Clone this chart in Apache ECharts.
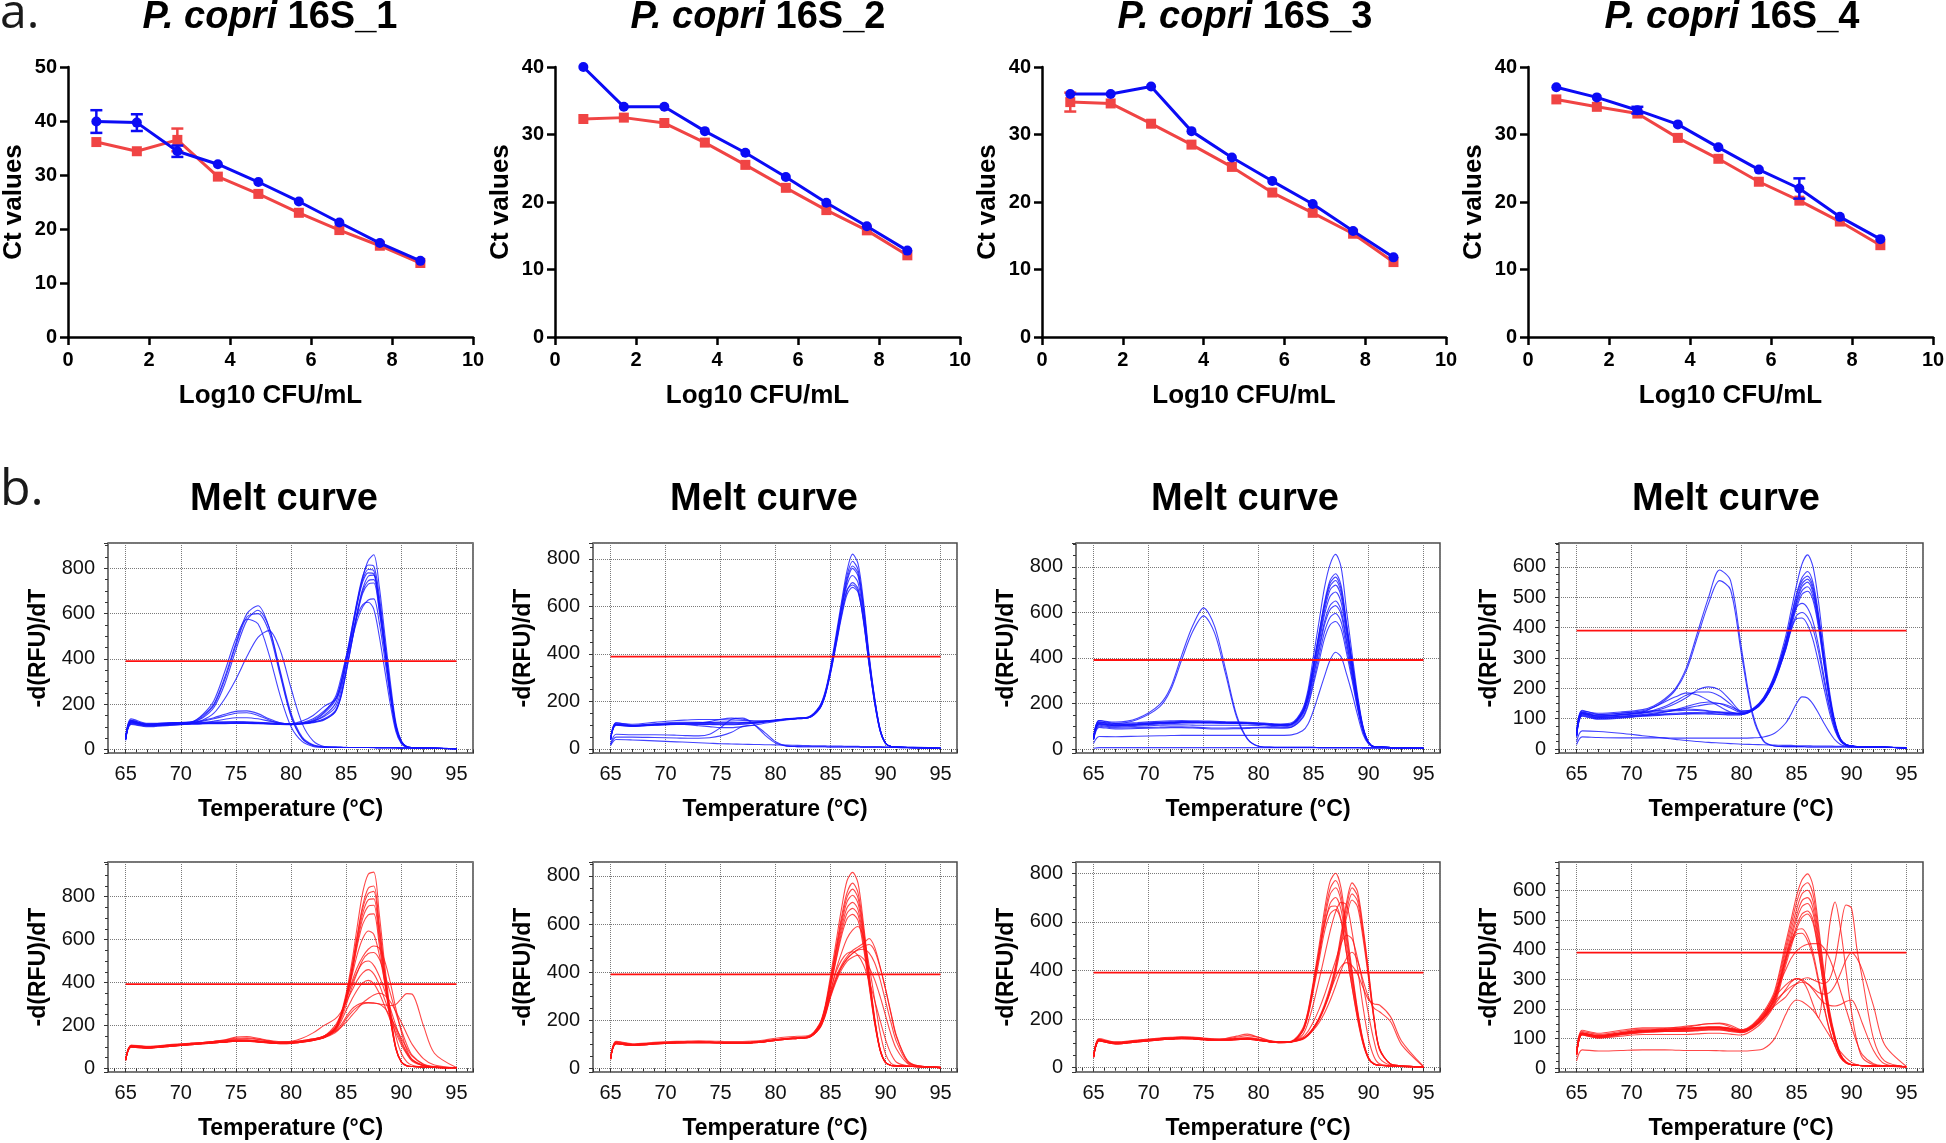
<!DOCTYPE html>
<html><head><meta charset="utf-8">
<script src="https://cdn.jsdelivr.net/npm/echarts@6/dist/echarts.min.js"></script>
<style>html,body{margin:0;padding:0;background:#fff}#c{width:1946px;height:1143px}</style>
</head><body><div id="c"></div>
<script>
const FONT = "'Liberation Sans', Arial, Helvetica, sans-serif";

// ---------- panel a: Ct vs log10 CFU/mL ----------
const logCFU = [0.7, 1.7, 2.7, 3.7, 4.7, 5.7, 6.7, 7.7, 8.7];
const assayNames = ['16S_1', '16S_2', '16S_3', '16S_4'];
const ctAxisMax = [50, 40, 40, 40];
const ctBlue1 = [39.9, 39.7, 34.4, 32.0, 28.7, 25.1, 21.2, 17.4, 14.1];
const sdBlue1 = [2.1, 1.55, 1.05, 0, 0, 0, 0, 0, 0];
const ctRed1 = [36.1, 34.4, 36.5, 29.7, 26.5, 23.0, 19.8, 16.9, 13.7];
const sdRed1 = [0, 0, 2.1, 0, 0, 0, 0, 0, 0];
const ctBlue2 = [40.0, 34.1, 34.1, 30.5, 27.3, 23.7, 19.9, 16.4, 12.8];
const sdBlue2 = [0, 0, 0, 0, 0, 0, 0, 0, 0];
const ctRed2 = [32.3, 32.5, 31.7, 28.8, 25.5, 22.1, 18.8, 15.8, 12.1];
const sdRed2 = [0, 0, 0, 0, 0, 0, 0, 0, 0];
const ctBlue3 = [36.0, 36.0, 37.1, 30.5, 26.6, 23.1, 19.7, 15.7, 11.8];
const sdBlue3 = [0, 0, 0, 0, 0, 0, 0, 0, 0];
const ctRed3 = [34.8, 34.6, 31.6, 28.5, 25.2, 21.4, 18.4, 15.3, 11.1];
const sdRed3 = [1.4, 0, 0, 0, 0, 0, 0, 0, 0];
const ctBlue4 = [37.0, 35.5, 33.6, 31.5, 28.1, 24.8, 22.0, 17.8, 14.5];
const sdBlue4 = [0, 0, 0.5, 0, 0, 0, 1.5, 0, 0];
const ctRed4 = [35.2, 34.1, 33.1, 29.5, 26.4, 23.0, 20.2, 17.1, 13.6];
const sdRed4 = [0, 0, 0, 0, 0, 0, 0, 0, 0];

// ---------- panel b: melt curves, -d(RFU)/dT vs temperature ----------
const meltTemp = [65, 65.5, 67, 69, 71, 72, 73, 74, 75, 76, 77, 78, 79, 80, 81, 82, 83,
  84, 84.5, 85, 85.5, 86, 86.5, 87, 87.5, 88, 88.5, 89, 89.5, 90, 90.5, 91, 92, 93, 95];
const meltThreshold = [390, 389, 391, 390, 392, 391, 391, 390];

const meltBlue1 = [
 [50,135,115,118,120,120,121,122,122,121,120,118,115,113,116,125,145, 185,255,380,515,650,760,835,860,720,510,300,120,38,12,8,6,5,3],
 [45,125,110,112,118,125,135,148,160,162,150,130,115,110,113,122,150, 200,280,400,530,660,765,815,810,680,480,275,110,35,12,8,6,5,3],
 [45,120,108,110,115,128,140,155,168,170,158,135,118,112,115,125,160, 215,290,410,530,650,750,795,790,650,460,260,100,32,11,8,6,5,3],
 [48,118,106,110,114,115,115,116,116,116,115,113,112,111,114,120,135, 170,235,350,480,610,710,765,770,640,455,260,105,34,12,8,6,5,3],
 [52,128,112,114,116,118,125,133,140,140,135,125,117,112,114,120,132, 165,225,340,470,600,700,745,750,620,440,250,100,33,11,8,6,5,3],
 [45,115,104,108,112,113,114,114,115,115,114,112,110,109,112,118,130, 165,230,345,470,595,690,730,735,610,430,240,95,30,10,8,6,5,3],
 [40,110,100,106,112,114,115,116,117,117,116,114,112,112,118,135,170, 220,290,390,480,570,630,660,665,560,400,230,90,28,10,8,6,5,3],
 [42,112,102,108,113,115,118,120,122,121,118,115,112,112,117,130,165, 230,310,410,500,590,640,650,620,500,350,200,80,25,10,8,6,5,3],
 [46,122,108,112,116,117,117,117,117,117,116,114,112,113,125,150,190, 220,270,380,510,640,740,780,775,650,460,265,105,34,12,8,6,5,3],
 [50,128,112,118,122,150,200,320,470,600,635,540,340,150,50,18,10, 9,9,8,8,8,8,8,8,7,7,7,7,6,6,6,5,5,3],
 [45,120,108,115,120,140,185,290,440,570,615,540,350,160,55,20,11, 9,9,8,8,8,8,8,8,7,7,7,7,6,6,6,5,5,3],
 [48,125,110,116,122,155,215,345,490,575,555,420,240,100,35,13,9, 9,8,8,8,8,8,8,7,7,7,7,6,6,6,5,5,5,3],
 [44,118,106,112,118,130,160,225,310,410,495,525,440,270,115,38,13, 10,9,9,8,8,8,8,8,7,7,7,7,6,6,6,5,5,3],
 [46,122,108,114,120,145,195,310,460,585,600,520,330,145,48,16,10, 9,9,8,8,8,8,8,8,7,7,7,7,6,6,6,5,5,3]
];
const meltBlue2 = [
 [42,110,100,106,112,112,112,111,110,110,111,112,116,122,127,130,134, 180,240,345,480,620,750,820,780,620,400,220,85,25,10,8,6,5,3],
 [40,105,98,104,108,108,108,107,106,106,108,110,115,120,125,128,132, 175,232,335,465,605,730,790,755,600,390,215,85,25,10,8,6,5,3],
 [38,102,96,102,106,108,110,112,113,113,112,112,116,121,126,129,133, 172,228,328,455,590,705,760,728,580,380,210,82,24,10,8,6,5,3],
 [45,110,104,112,120,122,124,124,123,122,120,118,119,122,126,130,135, 178,235,335,460,590,690,730,700,560,370,205,80,24,10,8,6,5,3],
 [40,100,96,100,104,104,104,103,102,102,104,108,114,120,125,128,132, 170,225,320,440,565,665,700,675,545,360,200,78,23,10,8,6,5,3],
 [42,104,98,102,104,102,98,94,90,90,94,100,108,116,122,127,131, 168,222,318,435,555,650,680,660,535,355,195,76,22,10,8,6,5,3],
 [40,104,98,103,106,106,108,115,125,130,125,118,117,120,125,129,133, 174,230,332,460,598,715,770,740,590,385,212,84,25,10,8,6,5,3],
 [38,100,95,100,103,103,103,104,104,104,105,108,113,119,124,127,131, 170,225,325,445,570,670,690,665,540,360,198,77,23,10,8,6,5,3],
 [20,62,60,60,58,56,55,62,90,125,130,105,60,25,12,10,9, 9,9,8,8,8,8,8,8,7,7,7,7,6,6,6,5,5,3],
 [18,50,50,48,46,45,45,47,55,70,95,100,70,30,13,10,9, 9,9,8,8,8,8,8,8,7,7,7,7,6,6,6,5,5,3],
 [15,40,38,34,30,28,26,24,22,21,20,19,18,17,16,15,14, 13,13,12,12,12,11,11,11,10,10,10,10,9,9,9,8,7,4]
];
const meltBlue3 = [
 [52,125,112,116,122,124,125,124,123,122,120,119,117,115,112,110,115, 175,260,410,560,710,810,855,800,610,420,240,100,30,10,8,6,5,3],
 [50,120,108,112,118,120,121,120,119,118,117,116,114,112,108,106,110, 165,245,375,510,645,740,770,720,555,390,225,95,30,10,8,6,5,3],
 [48,116,106,110,116,118,119,119,118,118,117,116,114,112,109,107,111, 168,242,372,505,636,728,755,705,545,382,220,94,29,10,8,6,5,3],
 [46,112,103,108,114,116,117,117,117,116,115,114,112,110,107,105,109, 162,236,365,495,625,715,740,690,535,375,216,92,29,10,8,6,5,3],
 [48,110,102,106,112,114,115,115,115,115,114,113,112,110,106,104,108, 160,230,355,480,608,698,720,672,522,366,212,90,28,10,8,6,5,3],
 [44,108,100,104,110,112,114,114,114,114,113,112,111,109,106,104,108, 158,225,345,465,590,670,690,645,505,355,206,88,28,10,8,6,5,3],
 [46,112,104,108,114,116,117,117,116,115,114,113,112,110,106,104,108, 155,220,330,445,560,630,650,610,480,340,198,85,27,10,8,6,5,3],
 [44,104,96,100,104,106,106,105,104,104,104,104,104,103,100,98,102, 150,215,320,432,545,612,630,592,468,332,194,84,27,10,8,6,5,3],
 [42,100,92,94,96,98,98,96,94,92,92,93,94,95,94,93,97, 140,200,300,408,515,578,595,560,445,318,186,80,26,10,8,6,5,3],
 [40,95,88,90,92,94,94,92,90,88,88,89,90,92,92,92,96, 135,190,285,385,485,545,560,528,422,302,178,77,25,9,8,6,5,3],
 [25,55,54,56,58,59,60,60,60,60,60,60,60,60,60,60,62, 80,110,170,245,320,390,425,405,330,245,150,65,22,9,8,6,5,3],
 [50,125,118,135,195,270,410,540,620,540,350,150,45,12,8,7,7, 7,7,7,6,6,6,6,6,6,6,6,5,5,5,5,5,4,3],
 [45,118,112,130,185,258,390,515,585,510,330,140,42,12,8,7,7, 7,7,7,6,6,6,6,6,6,6,6,5,5,5,5,5,4,3],
 [3,6,6,6,6,6,6,6,6,6,6,6,6,6,6,6,6, 6,6,6,6,6,6,6,6,6,6,6,5,5,5,5,5,4,3]
];
const meltBlue4 = [
 [48,128,114,118,124,126,128,130,132,130,126,122,117,117,132,170,245, 370,455,540,610,640,600,485,330,190,90,34,15,10,8,8,7,6,4],
 [46,122,110,114,120,122,124,126,128,127,124,120,116,116,130,166,238, 355,435,512,565,585,548,445,305,178,84,32,14,10,8,8,7,6,4],
 [44,118,108,112,118,125,135,150,170,195,205,195,160,125,130,165,235, 350,428,505,555,570,535,435,300,175,83,32,14,10,8,8,7,6,4],
 [45,120,108,112,120,128,140,158,178,188,188,175,148,122,128,162,232, 345,420,492,545,560,525,428,295,172,82,31,14,10,8,8,7,6,4],
 [44,116,104,108,112,114,116,118,120,120,118,116,113,114,128,160,228, 340,415,485,535,550,515,420,290,168,80,30,14,10,8,8,7,6,4],
 [46,118,108,114,122,138,155,172,185,178,160,140,122,115,128,160,226, 335,408,476,522,535,502,410,283,165,79,30,14,10,8,8,7,6,4],
 [42,112,102,106,110,112,114,115,116,116,115,114,112,113,126,158,222, 328,400,465,510,520,490,400,277,162,78,30,14,10,8,8,7,6,4],
 [44,115,104,108,114,118,122,128,135,142,148,150,140,125,132,168,240, 350,420,468,480,465,420,340,238,142,70,28,13,10,8,8,7,6,4],
 [42,110,100,104,110,115,122,130,140,150,155,150,135,120,128,160,228, 330,395,440,450,435,395,320,225,135,67,27,13,10,8,8,7,6,4],
 [40,108,98,102,108,110,112,114,116,118,120,122,120,118,126,158,225, 325,390,430,432,410,360,285,200,120,60,25,12,9,8,8,7,6,4],
 [50,125,118,122,130,142,165,200,270,385,500,590,555,330,120,28,10, 8,8,8,8,7,7,7,7,7,7,7,7,6,6,6,6,6,4],
 [46,120,114,118,126,138,160,195,260,370,480,555,525,310,110,25,10, 8,8,8,8,7,7,7,7,7,7,7,7,6,6,6,6,6,4],
 [15,40,38,37,37,37,37,36,36,36,36,36,36,36,37,40,52, 85,115,150,172,168,148,118,85,55,30,15,9,8,7,7,6,6,4],
 [25,60,58,52,44,40,36,32,28,25,22,20,18,16,15,14,13, 12,12,11,11,11,10,10,10,10,9,9,9,9,8,8,8,7,5]
];
const meltRed1 = [
 [40,108,102,110,118,120,124,128,132,132,128,124,121,123,129,137,150, 190,250,350,490,660,820,905,915,720,480,265,100,30,12,8,5,4,2],
 [38,104,98,106,113,116,120,124,128,128,124,120,118,120,126,134,146, 185,242,335,465,620,760,840,850,670,450,250,96,30,12,8,5,4,2],
 [42,106,100,108,116,120,126,132,140,142,136,128,122,123,129,137,150, 188,245,338,462,612,745,815,825,650,438,244,95,29,12,8,5,4,2],
 [40,102,96,104,112,115,118,122,126,126,122,118,116,118,124,132,144, 182,238,328,448,595,722,785,790,625,422,236,92,29,12,8,5,4,2],
 [38,100,95,102,110,114,118,122,127,128,124,119,116,117,122,130,142, 180,235,322,440,582,700,755,760,602,408,230,90,28,11,8,5,4,2],
 [40,104,98,106,114,118,124,130,136,138,134,126,120,120,126,134,148, 186,240,325,438,570,672,715,720,575,395,225,90,28,11,8,5,4,2],
 [38,100,95,104,112,116,120,124,128,128,125,120,117,118,124,132,146, 182,236,320,425,530,605,640,625,530,400,270,150,70,30,14,6,4,2],
 [40,102,97,105,113,117,121,125,130,130,127,122,119,120,126,134,150, 190,240,315,400,470,520,555,570,560,500,400,280,170,85,40,12,5,2],
 [38,100,95,104,112,116,120,124,128,128,125,120,117,118,124,132,146, 180,225,295,375,445,505,535,540,510,440,350,260,180,110,60,20,8,2],
 [40,104,98,106,114,118,122,126,131,131,127,122,119,120,126,134,150, 200,250,320,390,450,490,500,480,430,360,280,200,130,75,40,14,6,2],
 [42,106,100,108,116,120,125,132,145,148,140,130,124,126,140,165,200, 230,260,310,360,410,445,460,440,390,320,250,180,120,70,36,12,5,2],
 [38,98,94,102,110,114,118,122,126,126,123,118,115,116,122,130,144, 175,215,270,320,365,398,410,395,350,290,225,165,110,65,33,12,5,2],
 [40,100,96,104,112,116,120,124,128,128,125,120,117,118,124,132,145, 170,190,215,245,275,305,325,342,350,340,310,265,215,160,110,45,15,2],
 [38,98,94,102,110,114,118,122,126,126,123,118,115,116,122,130,142, 165,190,230,262,285,300,305,303,300,296,292,298,325,348,345,200,70,3],
 [38,100,96,104,112,116,120,124,128,128,125,120,117,118,124,132,144, 172,200,240,275,295,305,306,305,300,280,240,190,140,95,55,18,6,2]
];
const meltRed2 = [
 [42,110,100,106,110,110,111,110,109,108,108,110,114,120,125,128,132, 185,258,385,525,665,780,815,770,600,400,215,82,25,12,10,8,7,3],
 [40,106,98,104,108,108,109,108,107,106,106,108,112,118,123,126,130, 180,250,370,500,630,730,770,730,580,390,210,80,25,12,10,8,7,3],
 [38,104,96,102,106,107,108,108,107,106,106,108,112,118,123,126,130, 178,246,362,490,615,712,745,708,565,382,206,79,24,12,10,8,7,3],
 [42,112,102,108,112,113,114,113,112,111,111,113,118,125,130,133,136, 182,250,360,482,600,692,720,686,550,372,202,78,24,12,10,8,7,3],
 [40,105,97,103,107,108,108,107,106,105,105,107,111,117,122,125,129, 176,242,350,468,582,668,690,660,532,362,198,77,24,12,10,8,7,3],
 [38,102,95,101,105,106,106,106,105,104,104,106,110,116,121,124,128, 172,236,342,455,565,645,665,638,516,352,193,76,23,12,10,8,7,3],
 [40,106,98,104,108,108,109,108,107,106,106,108,112,118,123,126,130, 174,238,340,448,550,622,640,615,500,345,190,75,23,12,10,8,7,3],
 [38,102,95,101,105,106,106,106,105,104,104,106,110,116,121,124,128, 170,228,320,410,480,540,575,590,545,430,290,150,60,20,11,8,7,3],
 [40,106,98,104,108,108,109,108,107,106,106,108,112,118,123,126,130, 170,225,310,380,430,465,490,505,520,540,505,425,330,225,130,30,10,4],
 [38,102,95,101,105,106,106,106,105,104,104,106,110,116,121,124,128, 166,220,300,368,420,455,478,495,508,515,490,420,330,230,135,32,10,4],
 [40,104,97,103,107,108,108,108,107,106,106,108,112,118,123,126,130, 168,222,305,372,422,455,478,492,495,480,440,370,280,190,110,25,9,4],
 [38,102,95,101,105,106,106,106,105,104,104,106,110,116,121,124,128, 165,215,295,360,410,445,462,470,455,420,370,300,220,140,80,20,8,4],
 [40,104,97,103,107,108,108,108,107,106,106,108,112,118,123,126,130, 170,228,320,400,450,478,485,470,430,365,285,200,120,60,25,10,8,3]
];
const meltRed3 = [
 [48,120,106,114,122,125,127,126,122,119,118,120,122,117,110,106,110, 160,235,360,500,650,765,800,740,570,400,240,115,42,16,10,7,5,3],
 [45,115,102,110,118,120,122,121,118,116,116,118,120,115,108,105,108, 152,225,345,480,625,735,770,710,548,385,232,112,40,15,10,7,5,3],
 [44,112,100,108,116,119,121,120,117,115,115,117,119,114,107,104,107, 150,220,338,468,605,712,740,685,528,372,225,108,39,15,10,7,5,3],
 [46,116,104,112,120,123,125,124,120,117,117,125,132,125,112,106,108, 150,218,330,455,585,675,700,650,502,355,216,104,38,15,10,7,5,3],
 [42,110,98,106,114,117,119,118,115,113,113,115,117,112,106,103,106, 155,230,350,475,590,660,665,610,470,330,200,98,36,14,10,7,5,3],
 [44,112,100,108,116,119,121,120,117,115,115,117,119,114,107,104,107, 148,212,320,440,560,632,650,605,470,335,205,100,37,14,10,7,5,3],
 [45,115,102,110,118,120,122,121,118,116,116,118,120,115,108,105,108, 120,136,165,205,260,330,420,550,680,760,725,580,400,210,80,15,8,3],
 [44,112,100,108,116,119,121,120,117,115,115,117,119,114,107,104,107, 118,134,162,200,254,322,410,535,662,740,706,565,390,205,78,15,8,3],
 [46,116,104,112,120,123,125,124,120,117,117,120,124,118,110,105,108, 120,136,163,200,250,315,400,520,640,715,685,550,380,200,76,15,8,3],
 [42,110,98,106,114,117,119,118,115,113,113,115,117,112,106,103,106, 116,132,158,195,245,308,390,502,618,690,662,532,368,195,74,15,8,3],
 [44,112,100,108,116,119,121,120,117,115,120,130,138,125,110,104,106, 120,138,165,200,250,310,370,415,432,420,385,330,280,262,258,210,110,5],
 [42,110,98,106,114,117,119,118,115,113,113,115,117,112,106,103,106, 118,132,155,185,225,275,335,400,450,475,440,360,290,245,230,190,95,4],
 [44,112,100,108,116,119,121,120,117,115,115,117,119,114,107,104,107, 135,185,265,360,460,560,640,680,670,560,410,250,120,45,16,8,5,3],
 [44,112,100,108,116,119,121,120,117,115,115,117,119,114,107,104,107, 125,150,190,240,300,370,440,510,545,530,450,340,220,110,40,10,6,3]
];
const meltRed4 = [
 [52,128,118,128,136,136,136,136,136,138,140,140,135,130,148,190,260, 420,500,580,635,655,615,480,325,195,108,48,22,13,10,9,8,8,5],
 [50,124,114,124,132,132,132,132,132,134,137,137,132,127,144,183,250, 405,482,558,610,625,588,460,312,188,104,46,21,12,10,9,8,8,5],
 [48,120,110,120,128,128,128,128,128,130,133,133,128,124,140,176,240, 392,465,535,588,600,562,442,300,180,100,45,20,12,10,9,8,8,5],
 [48,118,110,120,128,130,134,138,142,146,150,152,145,130,140,172,232, 378,448,515,565,575,540,425,290,175,98,44,20,12,10,9,8,8,5],
 [46,116,106,116,124,124,124,124,124,126,129,129,124,120,136,170,228, 368,436,500,545,555,522,412,282,170,95,43,20,12,10,9,8,8,5],
 [46,114,104,114,122,123,124,125,126,128,130,130,126,121,135,166,222, 355,420,480,520,530,500,396,272,165,93,42,19,12,10,9,8,8,5],
 [44,112,102,108,114,114,114,114,114,116,118,118,115,112,128,160,215, 345,408,468,508,520,490,390,268,162,92,42,19,12,10,9,8,8,5],
 [46,116,106,116,124,126,128,132,138,145,150,150,140,126,140,175,240, 370,430,465,470,445,390,300,210,130,75,36,18,12,10,9,8,8,5],
 [44,112,102,112,120,122,124,126,128,130,132,132,128,122,138,172,236, 362,420,452,455,430,375,290,205,128,74,36,18,12,10,9,8,8,5],
 [48,118,108,118,126,128,130,132,134,136,138,138,133,126,140,170,215, 265,290,302,295,265,215,170,300,480,560,470,330,190,90,35,12,8,5],
 [46,116,106,116,124,126,128,130,132,134,136,136,131,125,138,168,210, 240,265,285,300,305,298,290,285,300,360,470,550,540,400,300,100,25,5],
 [48,118,108,118,126,128,130,132,134,136,138,138,133,126,142,180,250, 330,370,395,410,418,420,420,405,370,320,260,200,140,85,45,15,8,5],
 [46,116,106,116,124,126,128,130,132,134,136,136,131,125,140,175,225, 260,275,285,290,285,270,255,250,255,280,320,365,390,370,330,210,80,6],
 [48,118,108,118,126,128,130,132,134,136,138,138,133,126,145,185,240, 280,295,302,298,285,265,240,220,212,210,215,225,230,200,150,60,15,5],
 [25,62,58,60,62,62,62,61,60,60,60,59,58,58,60,66,100, 180,215,230,225,212,195,170,140,110,80,55,35,20,12,9,8,7,5]
];

// ---------- layout (positions / styles) ----------
const BLUE = '#0b0bf5', RED = '#f04444';
const aLeft = [68, 555, 1042, 1528], aWidth = [405, 405, 404, 405];
const aTitleX = [270, 758, 1245, 1732];
const mLeft = [108, 593, 1076, 1559], mWidth = [365, 364, 364, 364];
const mTitleX = [284, 764, 1245, 1726];
const mYRange = [[-16, 912], [-17, 867], [-17.6, 905], [-13, 679], [-17.5, 962], [-15.4, 858], [-17.7, 846], [-12.5, 695]];
const mYStep = [200, 200, 200, 100, 200, 200, 200, 100];

const ctBlue = [ctBlue1, ctBlue2, ctBlue3, ctBlue4], sdBlue = [sdBlue1, sdBlue2, sdBlue3, sdBlue4];
const ctRed = [ctRed1, ctRed2, ctRed3, ctRed4], sdRed = [sdRed1, sdRed2, sdRed3, sdRed4];
const meltSets = [meltBlue1, meltBlue2, meltBlue3, meltBlue4, meltRed1, meltRed2, meltRed3, meltRed4];

const grid = [], xAxis = [], yAxis = [], series = [], title = [];

title.push({text: 'a.', left: 0, top: -10, padding: 0, textStyle: {fontFamily: "'Open Sans', sans-serif", fontSize: 48, fontWeight: 'normal', color: '#1a1a1a', lineHeight: 48}});
title.push({text: 'b.', left: 0, top: 466, padding: 0, textStyle: {fontFamily: "'Open Sans', sans-serif", fontSize: 50, fontWeight: 'normal', color: '#1a1a1a', lineHeight: 50}});

function errRender(color) {
  return function (params, api) {
    const x = api.value(0), y = api.value(1), e = api.value(2);
    const p1 = api.coord([x, y + e]), p2 = api.coord([x, y - e]);
    const w = 6, st = {stroke: color, lineWidth: 2.5};
    return {type: 'group', children: [
      {type: 'line', shape: {x1: p1[0], y1: p1[1], x2: p2[0], y2: p2[1]}, style: st},
      {type: 'line', shape: {x1: p1[0] - w, y1: p1[1], x2: p1[0] + w, y2: p1[1]}, style: st},
      {type: 'line', shape: {x1: p2[0] - w, y1: p2[1], x2: p2[0] + w, y2: p2[1]}, style: st}
    ]};
  };
}

for (let i = 0; i < 4; i++) {
  title.push({
    text: '{it|P. copri} {b|' + assayNames[i] + '}', left: aTitleX[i], top: -1, textAlign: 'center', padding: 0,
    textStyle: {fontFamily: FONT, fontSize: 38, fontWeight: 'bold', color: '#000', lineHeight: 38,
      rich: {it: {fontFamily: FONT, fontSize: 38, fontStyle: 'italic', fontWeight: 'bold', color: '#000', lineHeight: 38},
             b: {fontFamily: FONT, fontSize: 38, fontWeight: 'bold', color: '#000', lineHeight: 38}}}
  });
  grid.push({left: aLeft[i], top: 67, width: aWidth[i], height: 270, outerBoundsMode: 'none'});
  xAxis.push({gridIndex: i, type: 'value', min: 0, max: 10, interval: 2,
    axisLine: {lineStyle: {color: '#000', width: 2.5}},
    axisTick: {length: 8, lineStyle: {color: '#000', width: 2.5}},
    axisLabel: {fontFamily: FONT, fontSize: 20, fontWeight: 'bold', color: '#000', margin: 13},
    splitLine: {show: false},
    name: 'Log10 CFU/mL', nameLocation: 'middle', nameGap: 46,
    nameTextStyle: {fontFamily: FONT, fontSize: 26, fontWeight: 'bold', color: '#000'}});
  yAxis.push({gridIndex: i, type: 'value', min: 0, max: ctAxisMax[i], interval: 10,
    axisLine: {show: true, lineStyle: {color: '#000', width: 2.5}},
    axisTick: {show: true, length: 8, lineStyle: {color: '#000', width: 2.5}},
    axisLabel: {fontFamily: FONT, fontSize: 20, fontWeight: 'bold', color: '#000', margin: 11},
    splitLine: {show: false},
    name: 'Ct values', nameLocation: 'middle', nameGap: 41,
    nameTextStyle: {fontFamily: FONT, fontSize: 26, fontWeight: 'bold', color: '#000'}});
  series.push({type: 'line', xAxisIndex: i, yAxisIndex: i, data: logCFU.map((x, k) => [x, ctRed[i][k]]),
    symbol: 'rect', symbolSize: 10, itemStyle: {color: RED}, lineStyle: {color: RED, width: 3}, z: 3});
  series.push({type: 'line', xAxisIndex: i, yAxisIndex: i, data: logCFU.map((x, k) => [x, ctBlue[i][k]]),
    symbol: 'circle', symbolSize: 10, itemStyle: {color: BLUE}, lineStyle: {color: BLUE, width: 3}, z: 4});
  series.push({type: 'custom', xAxisIndex: i, yAxisIndex: i, renderItem: errRender(RED), z: 3,
    encode: {x: 0, y: 1}, data: logCFU.map((x, k) => [x, ctRed[i][k], sdRed[i][k]]).filter(d => d[2] > 0)});
  series.push({type: 'custom', xAxisIndex: i, yAxisIndex: i, renderItem: errRender(BLUE), z: 4,
    encode: {x: 0, y: 1}, data: logCFU.map((x, k) => [x, ctBlue[i][k], sdBlue[i][k]]).filter(d => d[2] > 0)});
}

for (let p = 0; p < 8; p++) {
  const g = 4 + p, col = p % 4, isRed = p >= 4;
  if (!isRed) {
    title.push({text: 'Melt curve', left: mTitleX[col], top: 481, textAlign: 'center', padding: 0,
      textStyle: {fontFamily: FONT, fontSize: 38, fontWeight: 'bold', color: '#000', lineHeight: 38}});
  }
  grid.push({left: mLeft[col], top: isRed ? 862 : 543, width: mWidth[col], height: 210, show: true,
    borderColor: '#4a4a4a', borderWidth: 1.5, backgroundColor: 'transparent', outerBoundsMode: 'none'});
  xAxis.push({gridIndex: g, type: 'value', min: 63.4, max: 96.5, minInterval: 5, maxInterval: 5,
    axisLine: {show: false},
    axisTick: {show: true, length: 4, lineStyle: {color: '#333', width: 1}},
    minorTick: {show: true, splitNumber: 5, length: 3, lineStyle: {color: '#333', width: 1}},
    axisLabel: {fontFamily: FONT, fontSize: 20, color: '#111', margin: 11, showMinLabel: false, showMaxLabel: false},
    splitLine: {show: true, lineStyle: {type: 'dotted', color: '#7a7a7a', width: 1}},
    name: 'Temperature (°C)', nameLocation: 'middle', nameGap: 45,
    nameTextStyle: {fontFamily: FONT, fontSize: 23, fontWeight: 'bold', color: '#000'}});
  yAxis.push({gridIndex: g, type: 'value', min: mYRange[p][0], max: mYRange[p][1],
    minInterval: mYStep[p], maxInterval: mYStep[p],
    axisLine: {show: false},
    axisTick: {show: true, length: 4, lineStyle: {color: '#333', width: 1}},
    minorTick: {show: true, splitNumber: 4, length: 3, lineStyle: {color: '#333', width: 1}},
    axisLabel: {fontFamily: FONT, fontSize: 20, color: '#111', margin: 13, showMinLabel: false, showMaxLabel: false},
    splitLine: {show: true, lineStyle: {type: 'dotted', color: '#7a7a7a', width: 1}},
    name: '-d(RFU)/dT', nameLocation: 'middle', nameGap: 58,
    nameTextStyle: {fontFamily: FONT, fontSize: 23, fontWeight: 'bold', color: '#000'}});
  const lineColor = isRed ? 'rgba(255,20,20,0.78)' : 'rgba(20,20,255,0.8)';
  meltSets[p].forEach(curve => {
    series.push({type: 'line', xAxisIndex: g, yAxisIndex: g, data: meltTemp.map((t, k) => [t, curve[k]]),
      showSymbol: false, symbol: 'none', smooth: 0.3, silent: true, z: 2,
      lineStyle: {color: lineColor, width: 1.1}});
  });
  series.push({type: 'line', xAxisIndex: g, yAxisIndex: g, data: [[65, meltThreshold[p]], [95, meltThreshold[p]]],
    showSymbol: false, symbol: 'none', silent: true, z: 3, lineStyle: {color: '#ff1010', width: 1.8}});
}

const chart = echarts.init(document.getElementById('c'), null, {renderer: 'canvas'});
chart.setOption({animation: false, backgroundColor: '#fff', title, grid, xAxis, yAxis, series});
</script></body></html>
